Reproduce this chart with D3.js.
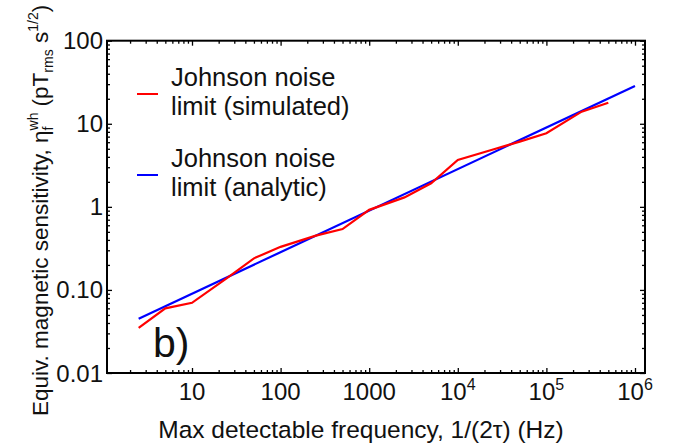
<!DOCTYPE html>
<html>
<head>
<meta charset="utf-8">
<script src="https://cdn.jsdelivr.net/npm/d3@7"></script>
<style>
  body { margin: 0; background: #fff; }
  svg text { font-family: "Liberation Sans", Arial, sans-serif; fill: #111; }
</style>
</head>
<body>
<div id="chart"></div>
<script>
// simulated Johnson noise limit (red)
const simFreq = [2.5, 5, 10, 25, 50, 100, 250, 500, 1000, 2500, 5000, 1e4, 2.5e4, 5e4, 1e5, 2.5e5, 5e5];
const simVals = [0.035, 0.060, 0.070, 0.14, 0.24, 0.33, 0.45, 0.54, 0.92, 1.3, 1.92, 3.66, 4.9, 6.1, 7.7, 14, 17.9];
// analytic Johnson noise limit (blue)
const anaFreq = [2.5, 1e6];
const anaVals = [0.045, 28.5];

const xTicks = [10, 100, 1000, 1e4, 1e5, 1e6];
const xTickLabels = [["10", ""], ["100", ""], ["1000", ""], ["10", "4"], ["10", "5"], ["10", "6"]];
const yTicks = [0.01, 0.1, 1, 10, 100];
const yTickLabels = ["0.01", "0.10", "1", "10", "100"];

const W = 684, H = 444;
const plotL = 107, plotR = 645, plotT = 40.7, plotB = 373;

const svg = d3.select("#chart").append("svg")
  .attr("width", W).attr("height", H);

const x = d3.scaleLog().domain([1.098, 1.297e6]).range([plotL, plotR]);
const y = d3.scaleLog().domain([0.01, 100]).range([plotB, plotT]);

// minor tick values (2..9 x decade)
const minorX = [];
for (let e = 0; e <= 6; e++) for (let k = 2; k <= 9; k++) {
  const v = k * Math.pow(10, e);
  if (v > x.domain()[0] && v < x.domain()[1]) minorX.push(v);
}
const minorY = [];
for (let e = -2; e <= 1; e++) for (let k = 2; k <= 9; k++) minorY.push(k * Math.pow(10, e));

function ticks(axis, vals, size) {
  return axis.tickValues(vals).tickSize(size).tickFormat("");
}

const axes = [
  [d3.axisBottom, x, `translate(0,${plotB})`, minorX, xTicks],
  [d3.axisTop, x, `translate(0,${plotT})`, minorX, xTicks],
  [d3.axisLeft, y, `translate(${plotL},0)`, minorY, yTicks],
  [d3.axisRight, y, `translate(${plotR},0)`, minorY, yTicks]
];
axes.forEach(([fn, sc, tr, mn, mj]) => {
  [[mn, -3], [mj, -5]].forEach(([vals, sz]) => {
    const g = svg.append("g").attr("transform", tr)
      .call(ticks(fn(sc), vals, sz));
    g.select(".domain").remove();
    g.selectAll("line").attr("stroke", "#000").attr("stroke-width", 1.3);
  });
});

// frame
svg.append("rect")
  .attr("x", plotL).attr("y", plotT)
  .attr("width", plotR - plotL).attr("height", plotB - plotT)
  .attr("fill", "none").attr("stroke", "#000").attr("stroke-width", 2);

// tick labels
svg.append("g").selectAll("text")
  .data(yTicks)
  .join("text")
  .attr("x", plotL - 4)
  .attr("y", d => y(d) + 8.5)
  .attr("text-anchor", "end")
  .style("font-size", "24px")
  .text((d, i) => yTickLabels[i]);

const xl = svg.append("g").selectAll("text")
  .data(xTicks)
  .join("text")
  .attr("x", d => x(d))
  .attr("y", 400)
  .attr("text-anchor", "middle")
  .style("font-size", "24px");
xl.append("tspan").text((d, i) => xTickLabels[i][0]);
xl.append("tspan")
  .attr("dy", -10)
  .style("font-size", "16px")
  .text((d, i) => xTickLabels[i][1]);

// axis titles
svg.append("text")
  .attr("x", 361)
  .attr("y", 438)
  .attr("text-anchor", "middle")
  .style("font-size", "24.5px")
  .text("Max detectable frequency, 1/(2τ) (Hz)");

const yt = svg.append("text")
  .attr("transform", "translate(48,416) rotate(-90)")
  .style("font-size", "22.5px");
yt.append("tspan").text("Equiv. magnetic sensitivity, η");
yt.append("tspan").attr("dy", -10).style("font-size", "14px").text("wh");
yt.append("tspan").attr("dx", -18).attr("dy", 15).style("font-size", "14px").text("f");
yt.append("tspan").attr("dy", -5).attr("dx", 14).text(" (pT");
yt.append("tspan").attr("dy", 5).style("font-size", "14px").text("rms");
yt.append("tspan").attr("dy", -5).text(" s");
yt.append("tspan").attr("dy", -10).style("font-size", "14px").text("1/2");
yt.append("tspan").attr("dy", 10).text(")");

// lines
const line = d3.line().x(d => x(d[0])).y(d => y(d[1]));
svg.append("path")
  .datum(anaFreq.map((f, i) => [f, anaVals[i]]))
  .attr("d", line)
  .attr("fill", "none").attr("stroke", "#0000ff").attr("stroke-width", 2.2);
svg.append("path")
  .datum(simFreq.map((f, i) => [f, simVals[i]]))
  .attr("d", line)
  .attr("fill", "none").attr("stroke", "#ff0000").attr("stroke-width", 2.2);

// legend
const legend = [
  { color: "#ff0000", lines: ["Johnson noise", "limit (simulated)"], y: 94 },
  { color: "#0000ff", lines: ["Johnson noise", "limit (analytic)"], y: 175 }
];
legend.forEach(l => {
  svg.append("line")
    .attr("x1", 137).attr("x2", 158)
    .attr("y1", l.y).attr("y2", l.y)
    .attr("stroke", l.color).attr("stroke-width", 2);
  l.lines.forEach((t, i) => {
    svg.append("text")
      .attr("x", 171).attr("y", l.y - 8 + i * 29)
      .style("font-size", "25.5px")
      .text(t);
  });
});

// panel label
svg.append("text")
  .attr("x", 153).attr("y", 357)
  .style("font-size", "41px")
  .text("b)");
</script>
</body>
</html>
